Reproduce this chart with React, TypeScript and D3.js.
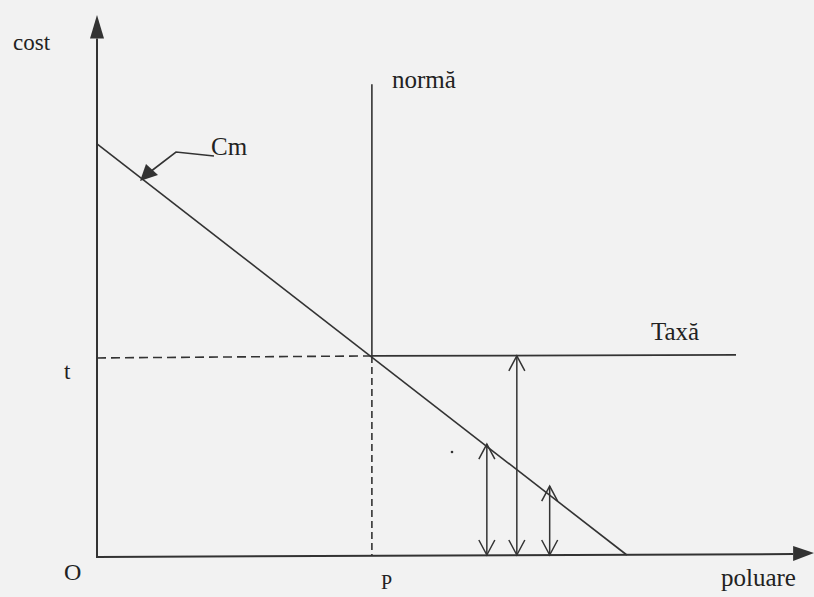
import React from "react";
import * as d3 from "d3";

// Diagram data (abstract units 0..100)
const cmLine: [number, number][] = [[0, 76.4], [74.2, 0]];
const normX = [38.5];
const normTop = [87.5];
const taxY = [37];
const taxEnd = [89.5];
const arrowXs = [54.6, 58.8, 63.4];
const arrowTops = [20.6, 37, 12.8];
const labels = ["cost", "Cm", "normă", "Taxă", "t", "O", "P", "poluare"];

const W = 814, H = 597;
const x = d3.scaleLinear().domain([0, 100]).range([97, 811]);
const y = d3.scaleLinear().domain([0, 100]).range([555, 17]);

const ink = "#333";

function openHead(px: number, py: number, dir: number) {
  // dir = -1 pointing up, 1 pointing down
  const len = 15, half = 8;
  return `M${px - half},${py - dir * len}L${px},${py}L${px + half},${py - dir * len}`;
}

export default function App() {
  const line = d3.line<[number, number]>().x(d => x(d[0])).y(d => y(d[1]));
  const ix = x(normX[0]);
  const iy = y(taxY[0]);
  const font = "'Liberation Serif', 'DejaVu Serif', serif";
  return (
    <svg width={W} height={H} style={{ position: "absolute", left: 0, top: 0, display: "block" }}>
      <rect width={W} height={H} fill="#f2f2f2" />
      {/* axes */}
      <line x1={x(0)} y1={y(0) + 3} x2={x(0)} y2={y(96)} stroke={ink} strokeWidth={2} />
      <path d={`M${x(0)},${y(100) - 2}L${x(0) - 7},${y(96)}L${x(0) + 7},${y(96)}Z`} fill={ink} />
      <line x1={x(0)} y1={y(0) + 2} x2={x(97.5)} y2={y(0) - 1} stroke={ink} strokeWidth={2} />
      <path d={`M${x(100) + 3},${y(0) - 2}L${x(97.5)},${y(0) - 9}L${x(97.5)},${y(0) + 6}Z`} fill={ink} />
      {/* Cm line */}
      <path d={line(cmLine) || ""} stroke={ink} strokeWidth={1.6} fill="none" />
      {/* normă vertical */}
      <line x1={ix} y1={y(normTop[0])} x2={ix} y2={iy} stroke={ink} strokeWidth={1.6} />
      <line x1={ix} y1={iy} x2={ix} y2={y(0)} stroke={ink} strokeWidth={1.6} strokeDasharray="7,4" />
      {/* dashed t line */}
      <line x1={x(0)} y1={iy + 2} x2={ix} y2={iy} stroke={ink} strokeWidth={1.6} strokeDasharray="9,5" />
      {/* Taxă line */}
      <line x1={ix} y1={iy} x2={x(taxEnd[0])} y2={iy - 1} stroke={ink} strokeWidth={1.8} />
      {/* double arrows */}
      {arrowXs.map((ax, i) => {
        const px = x(ax), top = y(arrowTops[i]), bot = y(0);
        return (
          <g key={i} stroke={ink} strokeWidth={1.5} fill="none">
            <line x1={px} y1={top} x2={px} y2={bot} />
            <path d={openHead(px, top, -1)} />
            <path d={openHead(px, bot, 1)} />
          </g>
        );
      })}
      {/* Cm pointer */}
      <path d="M214,156L176,152L150,172" stroke={ink} strokeWidth={1.6} fill="none" />
      <path d="M140,181L146,164L158,175Z" fill={ink} />
      <circle cx={452} cy={452} r={1.3} fill={ink} />
      {/* labels */}
      <g fontFamily={font} fill="#222">
        <text x={13} y={50} fontSize={23}>{labels[0]}</text>
        <text x={211} y={155} fontSize={25}>{labels[1]}</text>
        <text x={392} y={88} fontSize={25}>{labels[2]}</text>
        <text x={651} y={340} fontSize={25}>{labels[3]}</text>
        <text x={64} y={379} fontSize={23}>{labels[4]}</text>
        <text x={64} y={580} fontSize={24}>{labels[5]}</text>
        <text x={381} y={589} fontSize={20}>{labels[6]}</text>
        <text x={721} y={586} fontSize={25}>{labels[7]}</text>
      </g>
    </svg>
  );
}
